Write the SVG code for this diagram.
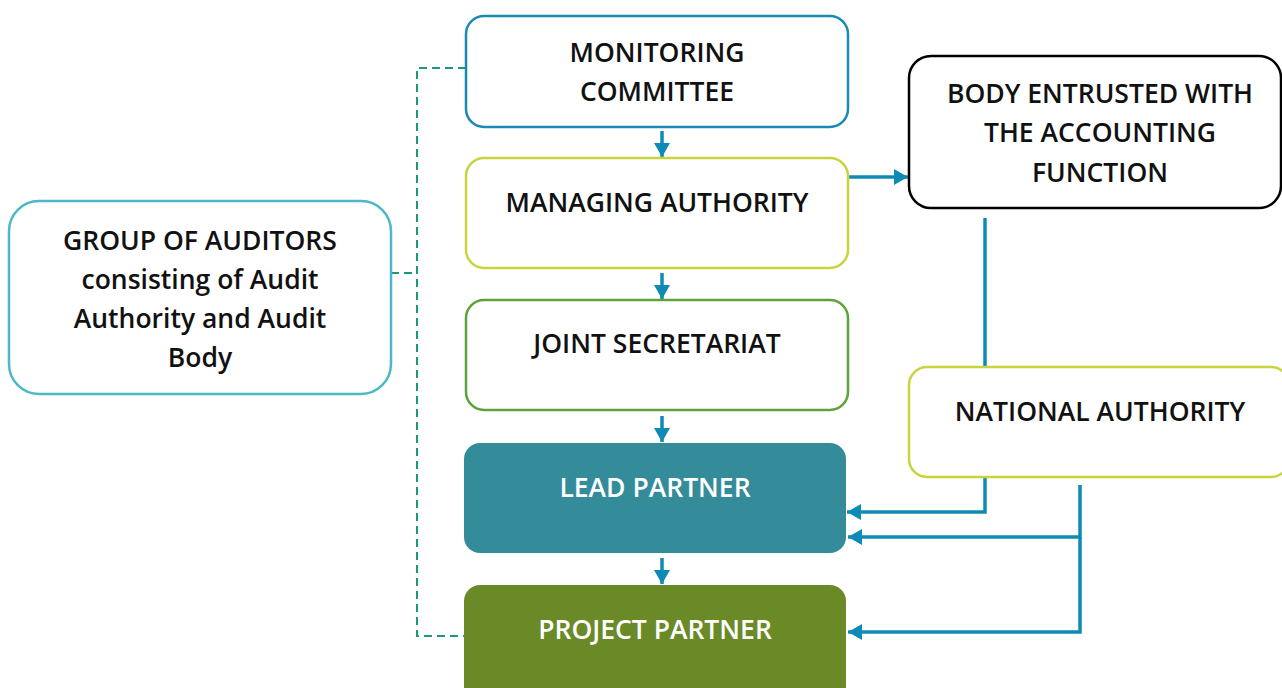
<svg xmlns="http://www.w3.org/2000/svg" width="1282" height="688" viewBox="0 0 1282 688">
<style>
.t{font-family:"Open Sans","Noto Sans","Liberation Sans",sans-serif;font-weight:600;font-size:26.5px;text-anchor:middle;fill:#111}
.w{fill:#fff}
.box{fill:#fff;stroke-width:2.5}
.c{fill:none;stroke:#0e8ab5;stroke-width:3.5}
.d{fill:none;stroke:#1a9a7a;stroke-width:2;stroke-dasharray:8 5}
</style>
<defs>
<marker id="ah" viewBox="0 0 14 16" refX="14" refY="8" markerWidth="14" markerHeight="16" markerUnits="userSpaceOnUse" orient="auto">
<path d="M0,0 L14,8 L0,16 Z" fill="#0e8ab5"/>
</marker>
</defs>
<rect width="1282" height="688" fill="#fff"/>
<g id="connectors">
<path class="d" d="M466,68 H417 V636 H464"/>
<path class="d" d="M391,273 H417"/>
<path class="c" d="M662,131 V157" marker-end="url(#ah)"/>
<path class="c" d="M662,273 V299" marker-end="url(#ah)"/>
<path class="c" d="M662,416 V442" marker-end="url(#ah)"/>
<path class="c" d="M662,558 V584" marker-end="url(#ah)"/>
<path class="c" d="M848,177 H908" marker-end="url(#ah)"/>
<path class="c" d="M985,218 V512 H847" marker-end="url(#ah)"/>
<path class="c" d="M1080,485 V537 H848" marker-end="url(#ah)"/>
<path class="c" d="M1080,537 V632 H848" marker-end="url(#ah)"/>
</g>
<g id="monitoring">
<rect class="box" x="466" y="16" width="382" height="111" rx="18" stroke="#1a8ab5"/>
<text class="t" x="657" y="62">MONITORING</text>
<text class="t" x="657" y="101">COMMITTEE</text>
</g>
<g id="managing">
<rect class="box" x="466" y="158" width="382" height="110" rx="18" stroke="#c8d43c"/>
<text class="t" x="657" y="212">MANAGING AUTHORITY</text>
</g>
<g id="joint">
<rect class="box" x="466" y="300" width="382" height="110" rx="18" stroke="#5ea23a"/>
<text class="t" x="657" y="353">JOINT SECRETARIAT</text>
</g>
<g id="lead">
<rect x="464" y="443" width="382" height="110" rx="16" fill="#348c9a"/>
<text class="t w" x="655" y="497">LEAD PARTNER</text>
</g>
<g id="project">
<rect x="464" y="585" width="382" height="120" rx="16" fill="#6a8a28"/>
<text class="t w" x="655" y="639">PROJECT PARTNER</text>
</g>
<g id="body">
<rect class="box" x="909" y="56" width="372" height="152" rx="22" stroke="#000"/>
<text class="t" x="1100" y="103">BODY ENTRUSTED WITH</text>
<text class="t" x="1100" y="142">THE ACCOUNTING</text>
<text class="t" x="1100" y="182">FUNCTION</text>
</g>
<g id="national">
<rect class="box" x="909" y="367" width="380" height="110" rx="18" stroke="#c8d43c"/>
<text class="t" x="1100" y="421">NATIONAL AUTHORITY</text>
</g>
<g id="auditors">
<rect class="box" x="9" y="201" width="382" height="193" rx="30" stroke="#4db8c8"/>
<text class="t" x="200" y="250">GROUP OF AUDITORS</text>
<text class="t" x="200" y="289">consisting of Audit</text>
<text class="t" x="200" y="328">Authority and Audit</text>
<text class="t" x="200" y="367">Body</text>
</g>
</svg>
